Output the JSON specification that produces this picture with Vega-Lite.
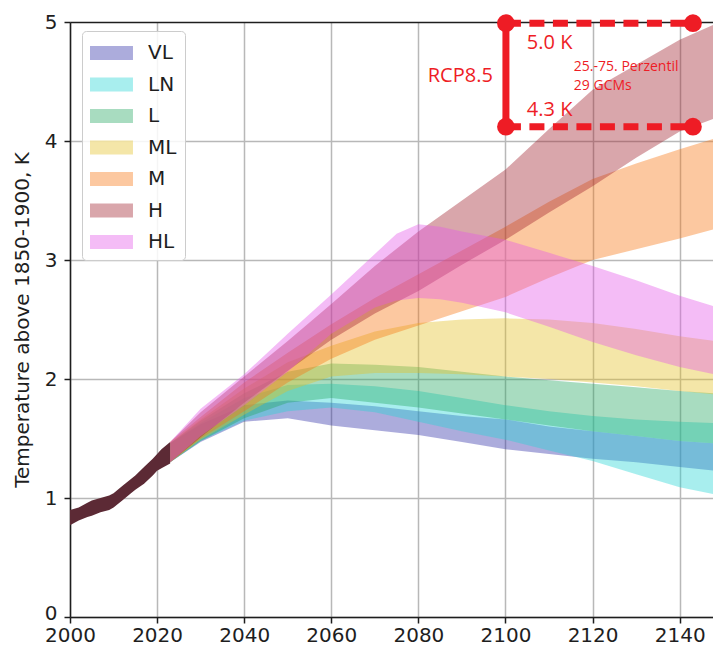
{
  "$schema": "https://vega.github.io/schema/vega-lite/v6.json",
  "width": 643,
  "height": 595,
  "autosize": {"type": "none"},
  "padding": {"left": 70, "top": 22, "right": 0, "bottom": 31},
  "background": "white",
  "config": {
    "view": {"stroke": null},
    "font": "DejaVu Sans",
    "axis": {
      "labelFont": "DejaVu Sans", "labelFontSize": 20, "labelColor": "#1e1e1e",
      "titleFont": "DejaVu Sans", "titleFontSize": 20, "titleFontWeight": "normal", "titleColor": "#1e1e1e",
      "tickWidth": 1.5, "tickColor": "#1e1e1e", "domainColor": "#1e1e1e", "domainWidth": 1.5,
      "gridColor": "#b8b8b8", "gridWidth": 1.5
    }
  },
  "datasets": {
    "hist": [
      {"year": 2000, "lo": 0.77, "hi": 0.90},
      {"year": 2002, "lo": 0.81, "hi": 0.92},
      {"year": 2004, "lo": 0.84, "hi": 0.96},
      {"year": 2005, "lo": 0.85, "hi": 0.98},
      {"year": 2007, "lo": 0.88, "hi": 1.00},
      {"year": 2009, "lo": 0.90, "hi": 1.02},
      {"year": 2010, "lo": 0.92, "hi": 1.04},
      {"year": 2012, "lo": 0.98, "hi": 1.10},
      {"year": 2014, "lo": 1.04, "hi": 1.16},
      {"year": 2015, "lo": 1.07, "hi": 1.19},
      {"year": 2017, "lo": 1.12, "hi": 1.26},
      {"year": 2019, "lo": 1.19, "hi": 1.33},
      {"year": 2020, "lo": 1.23, "hi": 1.37},
      {"year": 2021, "lo": 1.25, "hi": 1.41},
      {"year": 2023, "lo": 1.29, "hi": 1.47}
    ],
    "bands": [
      {"s": "VL", "year": 2023, "lo": 1.30, "hi": 1.46},
      {"s": "VL", "year": 2030, "lo": 1.47, "hi": 1.62},
      {"s": "VL", "year": 2040, "lo": 1.64, "hi": 1.78},
      {"s": "VL", "year": 2050, "lo": 1.67, "hi": 1.82},
      {"s": "VL", "year": 2060, "lo": 1.61, "hi": 1.80},
      {"s": "VL", "year": 2070, "lo": 1.57, "hi": 1.77},
      {"s": "VL", "year": 2080, "lo": 1.53, "hi": 1.73},
      {"s": "VL", "year": 2090, "lo": 1.47, "hi": 1.69},
      {"s": "VL", "year": 2100, "lo": 1.41, "hi": 1.66},
      {"s": "VL", "year": 2110, "lo": 1.37, "hi": 1.60},
      {"s": "VL", "year": 2120, "lo": 1.33, "hi": 1.56},
      {"s": "VL", "year": 2130, "lo": 1.30, "hi": 1.52},
      {"s": "VL", "year": 2140, "lo": 1.26, "hi": 1.48},
      {"s": "VL", "year": 2148, "lo": 1.23, "hi": 1.46},
      {"s": "LN", "year": 2023, "lo": 1.30, "hi": 1.46},
      {"s": "LN", "year": 2030, "lo": 1.48, "hi": 1.63},
      {"s": "LN", "year": 2040, "lo": 1.65, "hi": 1.84},
      {"s": "LN", "year": 2050, "lo": 1.73, "hi": 1.95},
      {"s": "LN", "year": 2060, "lo": 1.76, "hi": 1.96},
      {"s": "LN", "year": 2070, "lo": 1.72, "hi": 1.94},
      {"s": "LN", "year": 2080, "lo": 1.64, "hi": 1.90},
      {"s": "LN", "year": 2090, "lo": 1.56, "hi": 1.84},
      {"s": "LN", "year": 2100, "lo": 1.49, "hi": 1.78},
      {"s": "LN", "year": 2110, "lo": 1.40, "hi": 1.73},
      {"s": "LN", "year": 2120, "lo": 1.31, "hi": 1.69},
      {"s": "LN", "year": 2130, "lo": 1.20, "hi": 1.66},
      {"s": "LN", "year": 2140, "lo": 1.09, "hi": 1.64},
      {"s": "LN", "year": 2148, "lo": 1.03, "hi": 1.63},
      {"s": "L", "year": 2023, "lo": 1.30, "hi": 1.46},
      {"s": "L", "year": 2030, "lo": 1.48, "hi": 1.65},
      {"s": "L", "year": 2040, "lo": 1.67, "hi": 1.88},
      {"s": "L", "year": 2050, "lo": 1.80, "hi": 2.06},
      {"s": "L", "year": 2060, "lo": 1.84, "hi": 2.13},
      {"s": "L", "year": 2070, "lo": 1.80, "hi": 2.12},
      {"s": "L", "year": 2080, "lo": 1.76, "hi": 2.10},
      {"s": "L", "year": 2090, "lo": 1.71, "hi": 2.06},
      {"s": "L", "year": 2100, "lo": 1.66, "hi": 2.02},
      {"s": "L", "year": 2110, "lo": 1.61, "hi": 1.99},
      {"s": "L", "year": 2120, "lo": 1.56, "hi": 1.96},
      {"s": "L", "year": 2130, "lo": 1.52, "hi": 1.93},
      {"s": "L", "year": 2140, "lo": 1.48, "hi": 1.90},
      {"s": "L", "year": 2148, "lo": 1.46, "hi": 1.88},
      {"s": "ML", "year": 2023, "lo": 1.30, "hi": 1.46},
      {"s": "ML", "year": 2030, "lo": 1.49, "hi": 1.66},
      {"s": "ML", "year": 2040, "lo": 1.70, "hi": 1.92},
      {"s": "ML", "year": 2050, "lo": 1.90, "hi": 2.14},
      {"s": "ML", "year": 2060, "lo": 2.02, "hi": 2.28},
      {"s": "ML", "year": 2070, "lo": 2.05, "hi": 2.40},
      {"s": "ML", "year": 2080, "lo": 2.05, "hi": 2.47},
      {"s": "ML", "year": 2090, "lo": 2.04, "hi": 2.50},
      {"s": "ML", "year": 2100, "lo": 2.02, "hi": 2.51},
      {"s": "ML", "year": 2110, "lo": 2.00, "hi": 2.50},
      {"s": "ML", "year": 2120, "lo": 1.97, "hi": 2.47},
      {"s": "ML", "year": 2130, "lo": 1.94, "hi": 2.42},
      {"s": "ML", "year": 2140, "lo": 1.90, "hi": 2.36},
      {"s": "ML", "year": 2148, "lo": 1.87, "hi": 2.32},
      {"s": "M", "year": 2023, "lo": 1.30, "hi": 1.47},
      {"s": "M", "year": 2030, "lo": 1.50, "hi": 1.68},
      {"s": "M", "year": 2040, "lo": 1.73, "hi": 1.97},
      {"s": "M", "year": 2050, "lo": 1.97, "hi": 2.22},
      {"s": "M", "year": 2060, "lo": 2.17, "hi": 2.46},
      {"s": "M", "year": 2070, "lo": 2.33, "hi": 2.68},
      {"s": "M", "year": 2080, "lo": 2.45, "hi": 2.88},
      {"s": "M", "year": 2090, "lo": 2.57, "hi": 3.08},
      {"s": "M", "year": 2100, "lo": 2.69, "hi": 3.28},
      {"s": "M", "year": 2110, "lo": 2.85, "hi": 3.49},
      {"s": "M", "year": 2120, "lo": 3.00, "hi": 3.68},
      {"s": "M", "year": 2130, "lo": 3.09, "hi": 3.81},
      {"s": "M", "year": 2140, "lo": 3.18, "hi": 3.93},
      {"s": "M", "year": 2148, "lo": 3.26, "hi": 4.02},
      {"s": "H", "year": 2023, "lo": 1.30, "hi": 1.47},
      {"s": "H", "year": 2030, "lo": 1.51, "hi": 1.72},
      {"s": "H", "year": 2040, "lo": 1.80, "hi": 2.02},
      {"s": "H", "year": 2050, "lo": 2.07, "hi": 2.32},
      {"s": "H", "year": 2060, "lo": 2.33, "hi": 2.63},
      {"s": "H", "year": 2070, "lo": 2.55, "hi": 2.95},
      {"s": "H", "year": 2080, "lo": 2.74, "hi": 3.24},
      {"s": "H", "year": 2090, "lo": 2.96, "hi": 3.50},
      {"s": "H", "year": 2100, "lo": 3.17, "hi": 3.76},
      {"s": "H", "year": 2110, "lo": 3.40, "hi": 4.10},
      {"s": "H", "year": 2120, "lo": 3.62, "hi": 4.43},
      {"s": "H", "year": 2130, "lo": 3.86, "hi": 4.64},
      {"s": "H", "year": 2140, "lo": 4.08, "hi": 4.85},
      {"s": "H", "year": 2148, "lo": 4.19, "hi": 4.98},
      {"s": "HL", "year": 2023, "lo": 1.30, "hi": 1.47},
      {"s": "HL", "year": 2030, "lo": 1.52, "hi": 1.75},
      {"s": "HL", "year": 2040, "lo": 1.78, "hi": 2.04},
      {"s": "HL", "year": 2050, "lo": 2.06, "hi": 2.38},
      {"s": "HL", "year": 2060, "lo": 2.38, "hi": 2.71},
      {"s": "HL", "year": 2070, "lo": 2.60, "hi": 3.05},
      {"s": "HL", "year": 2075, "lo": 2.66, "hi": 3.22},
      {"s": "HL", "year": 2080, "lo": 2.68, "hi": 3.30},
      {"s": "HL", "year": 2085, "lo": 2.67, "hi": 3.28},
      {"s": "HL", "year": 2090, "lo": 2.64, "hi": 3.24},
      {"s": "HL", "year": 2100, "lo": 2.56, "hi": 3.17},
      {"s": "HL", "year": 2110, "lo": 2.44, "hi": 3.06},
      {"s": "HL", "year": 2120, "lo": 2.31, "hi": 2.95},
      {"s": "HL", "year": 2130, "lo": 2.20, "hi": 2.83},
      {"s": "HL", "year": 2140, "lo": 2.10, "hi": 2.70},
      {"s": "HL", "year": 2148, "lo": 2.04, "hi": 2.61}
    ]
  },
  "layer": [
    {
      "data": {"name": "hist"},
      "mark": {"type": "area", "color": "#5c2a35", "opacity": 1, "clip": true},
      "encoding": {
        "x": {
          "field": "year", "type": "quantitative",
          "scale": {"domain": [2000, 2147.65], "nice": false, "zero": false},
          "axis": {
            "values": [2000, 2020, 2040, 2060, 2080, 2100, 2120, 2140],
            "format": "d", "title": null,
            "labelFontSize": 20, "labelPadding": 2, "labelFlush": false,
            "tickSize": 6, "grid": true
          }
        },
        "y": {
          "field": "lo", "type": "quantitative",
          "scale": {"domain": [0, 5], "nice": false},
          "axis": {
            "values": [0, 1, 2, 3, 4, 5], "format": "d",
            "title": "Temperature above 1850-1900, K",
            "titleFontSize": 20, "titlePadding": 12,
            "labelFontSize": 20, "labelPadding": 7,
            "labelOffset": {"condition": {"test": "datum.value === 0", "value": -4}, "value": 0},
            "tickSize": 6, "grid": true,
            "gridColor": {"condition": {"test": "datum.value === 5", "value": "#1e1e1e"}, "value": "#b8b8b8"}
          }
        },
        "y2": {"field": "hi"}
      }
    },
    {
      "data": {"name": "bands"},
      "mark": {"type": "area", "fillOpacity": 0.4, "clip": true},
      "encoding": {
        "x": {"field": "year", "type": "quantitative"},
        "y": {"field": "lo", "type": "quantitative"},
        "y2": {"field": "hi"},
        "color": {
          "field": "s", "type": "nominal",
          "scale": {
            "domain": ["VL", "LN", "L", "ML", "M", "H", "HL"],
            "range": ["#3030a8", "#26d5d5", "#26a862", "#e4c026", "#f87612", "#a0202e", "#e458e8"]
          },
          "legend": {
            "orient": "none", "legendX": 12, "legendY": 9, "title": null,
            "symbolType": "M-1,-0.5H2.07V0.5H-1Z", "symbolSize": 784,
            "symbolOpacity": 0.4, "symbolStrokeWidth": 0,
            "labelFont": "DejaVu Sans", "labelFontSize": 20, "labelColor": "#1e1e1e",
            "labelOffset": 30, "rowPadding": 7.5, "padding": 8,
            "fillColor": "rgba(255,255,255,0.85)", "strokeColor": "#cccccc", "cornerRadius": 4
          }
        }
      }
    },
    {
      "data": {"values": [{"x": 2100.1, "y": 4.99, "y2": 4.12}]},
      "mark": {"type": "rule", "color": "#ee1c25", "strokeWidth": 7},
      "encoding": {
        "x": {"field": "x", "type": "quantitative"},
        "y": {"field": "y", "type": "quantitative"},
        "y2": {"field": "y2"}
      }
    },
    {
      "data": {"values": [{"x": 2100.1, "x2": 2143.05, "y": 4.99}, {"x": 2100.1, "x2": 2143.05, "y": 4.12}]},
      "mark": {"type": "rule", "color": "#ee1c25", "strokeWidth": 7, "strokeDash": [15, 8.5]},
      "encoding": {
        "x": {"field": "x", "type": "quantitative"},
        "x2": {"field": "x2"},
        "y": {"field": "y", "type": "quantitative"}
      }
    },
    {
      "data": {"values": [{"x": 2100.1, "y": 4.99}, {"x": 2143.05, "y": 4.99}, {"x": 2100.1, "y": 4.12}, {"x": 2143.05, "y": 4.12}]},
      "mark": {"type": "circle", "color": "#ee1c25", "opacity": 1, "size": 314},
      "encoding": {
        "x": {"field": "x", "type": "quantitative"},
        "y": {"field": "y", "type": "quantitative"}
      }
    },
    {
      "data": {"values": [{"t": "RCP8.5", "x": 2097.1, "y": 4.546}]},
      "mark": {"type": "text", "color": "#ee1c25", "font": "Open Sans", "fontSize": 20, "align": "right", "baseline": "middle"},
      "encoding": {
        "x": {"field": "x", "type": "quantitative"},
        "y": {"field": "y", "type": "quantitative"},
        "text": {"field": "t"}
      }
    },
    {
      "data": {"values": [{"t": "5.0 K", "x": 2104.9, "y": 4.82}, {"t": "4.3 K", "x": 2104.9, "y": 4.26}]},
      "mark": {"type": "text", "color": "#ee1c25", "font": "Open Sans", "fontSize": 20, "align": "left", "baseline": "middle"},
      "encoding": {
        "x": {"field": "x", "type": "quantitative"},
        "y": {"field": "y", "type": "quantitative"},
        "text": {"field": "t"}
      }
    },
    {
      "data": {"values": [{"t": "25.-75. Perzentil", "x": 2115.7, "y": 4.62}, {"t": "29 GCMs", "x": 2115.7, "y": 4.46}]},
      "mark": {"type": "text", "color": "#ee1c25", "font": "Open Sans", "fontSize": 14, "align": "left", "baseline": "middle"},
      "encoding": {
        "x": {"field": "x", "type": "quantitative"},
        "y": {"field": "y", "type": "quantitative"},
        "text": {"field": "t"}
      }
    }
  ]
}
